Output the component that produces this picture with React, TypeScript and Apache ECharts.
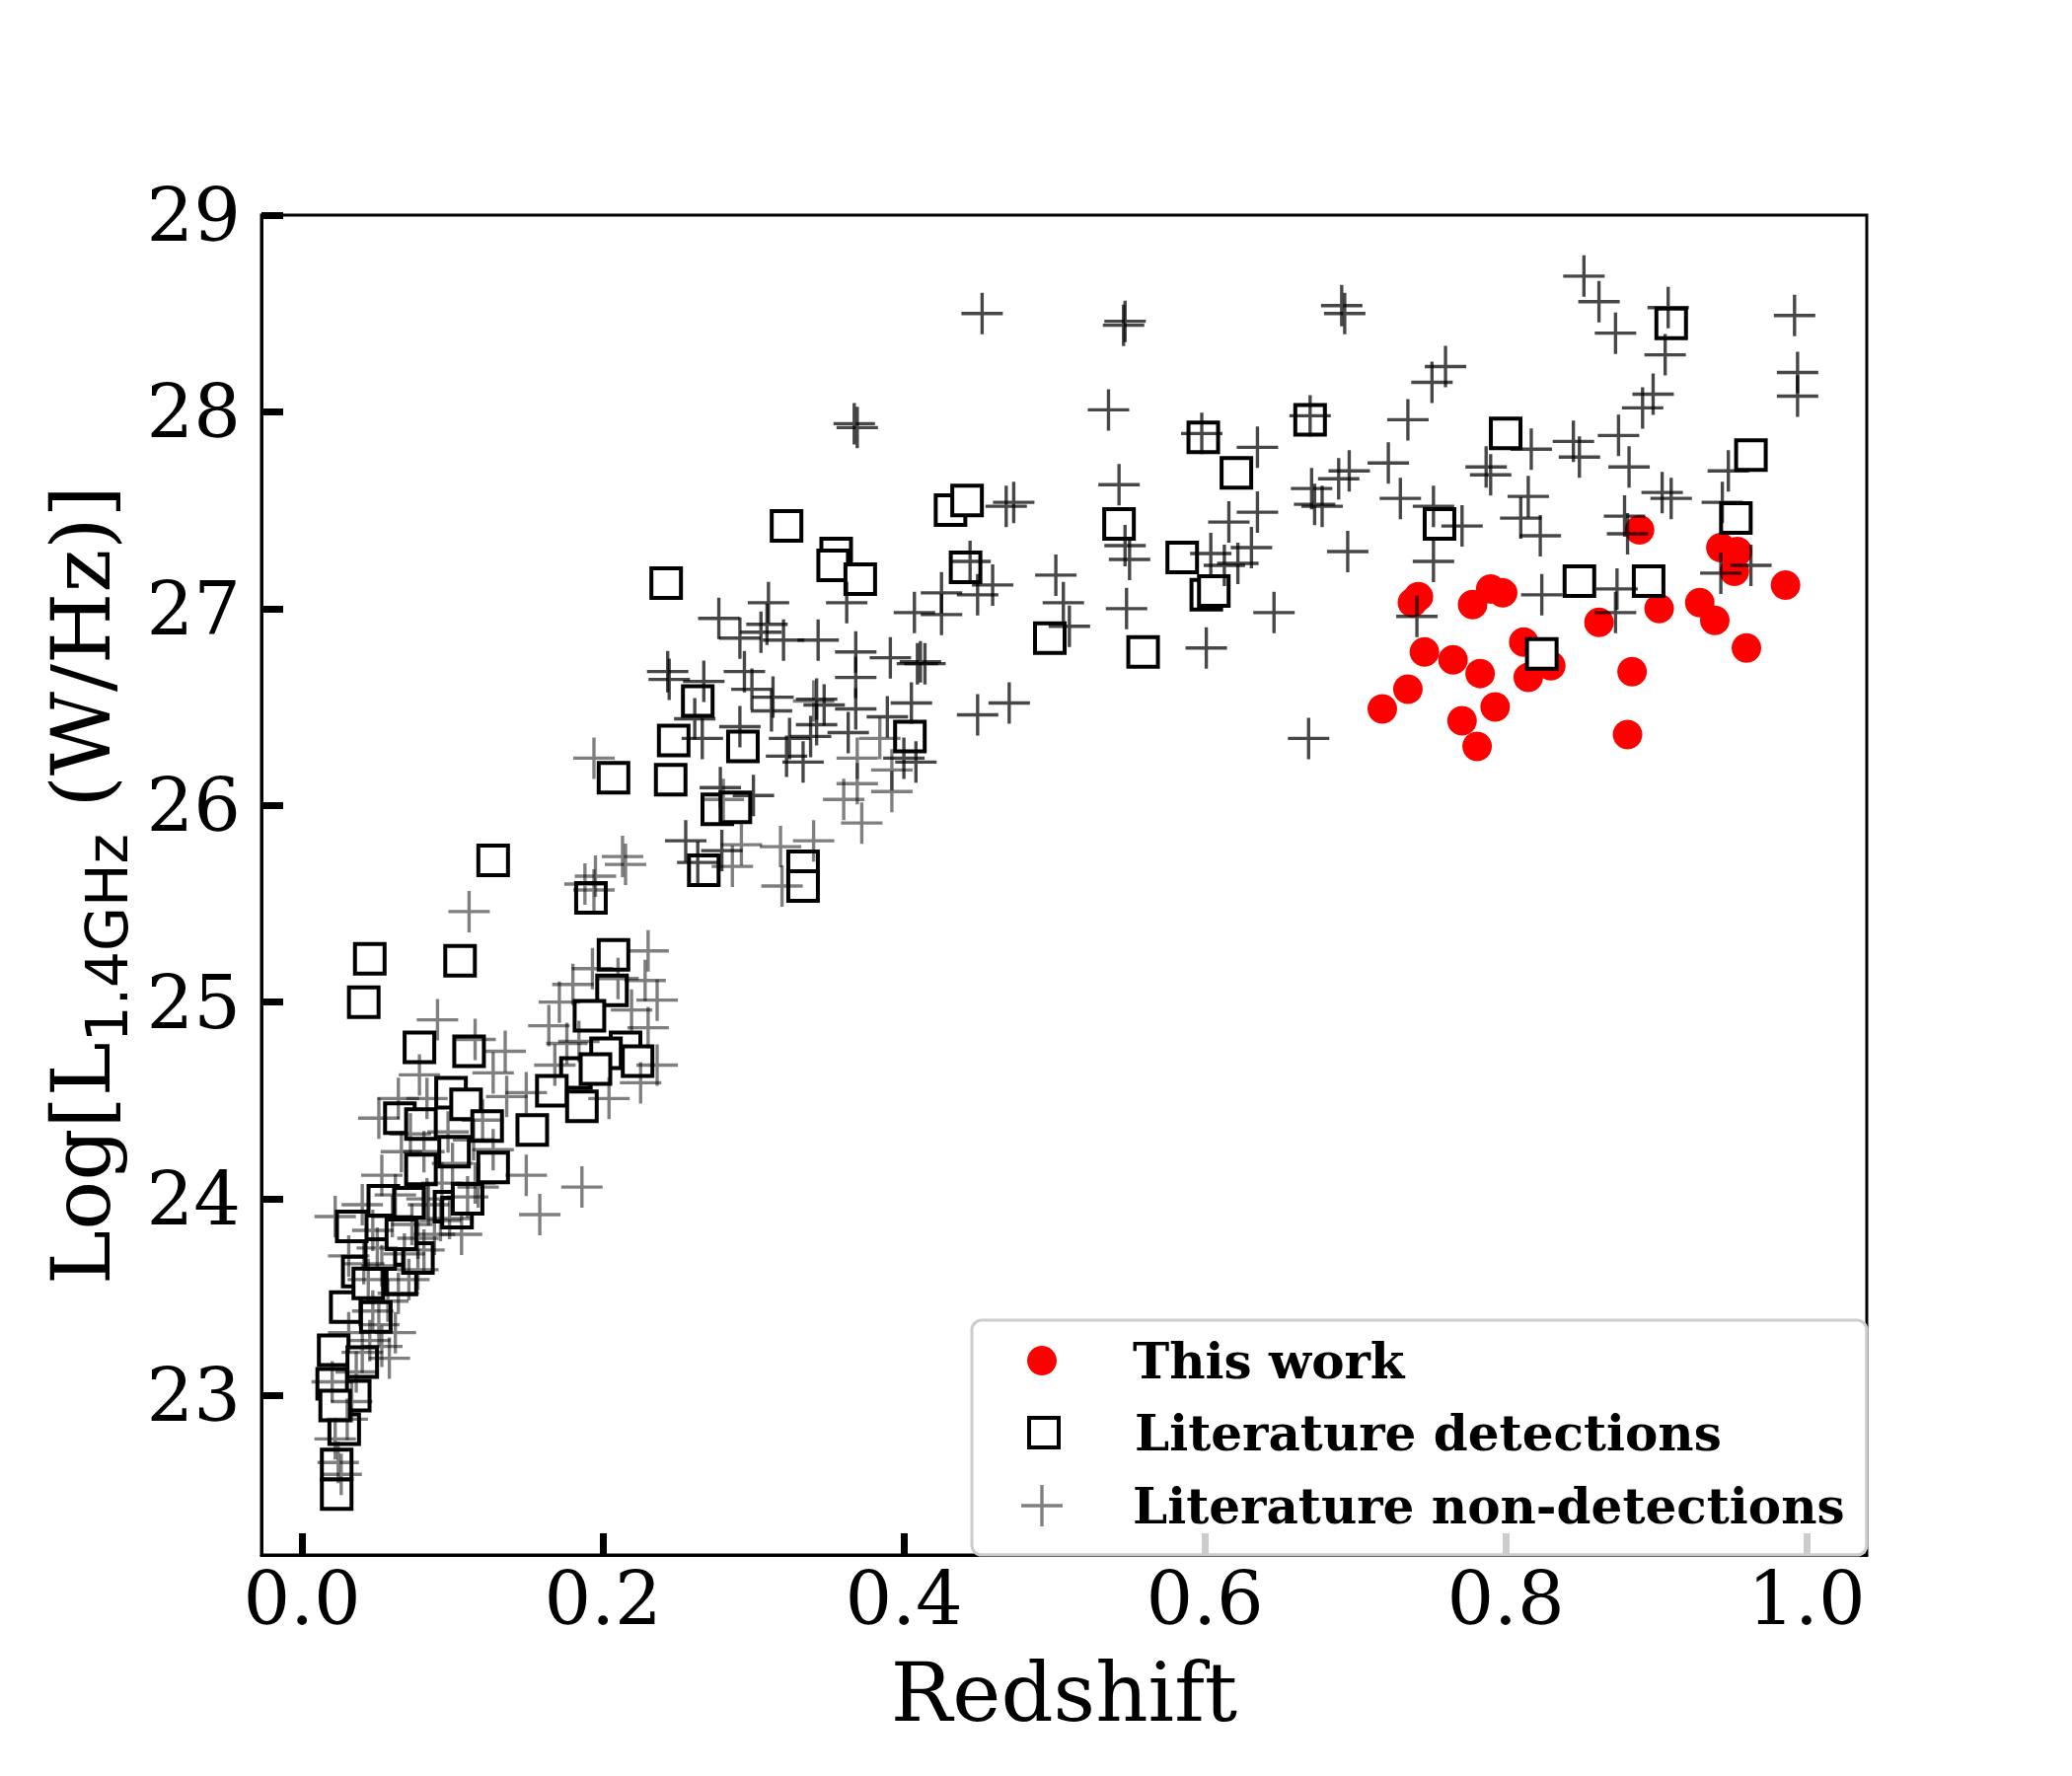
import React, { useEffect, useRef } from 'react';
import * as echarts from 'echarts';

// ---- data (redshift, log L1.4GHz) ----
const thisWork: number[][] = [
  [0.889, 27.40], [0.943, 27.31], [0.954, 27.29], [0.952, 27.19], [0.986, 27.12], [0.929, 27.03],
  [0.939, 26.94], [0.902, 27.00], [0.862, 26.93], [0.960, 26.80], [0.884, 26.68], [0.881, 26.36],
  [0.738, 27.03], [0.742, 27.06], [0.778, 27.02], [0.790, 27.10], [0.798, 27.08], [0.746, 26.78],
  [0.765, 26.74], [0.783, 26.67], [0.812, 26.83], [0.830, 26.71], [0.815, 26.65], [0.735, 26.59],
  [0.718, 26.49], [0.793, 26.50], [0.771, 26.43], [0.781, 26.30],
];

const litDetections: number[][] = [
  [0.023, 22.50], [0.023, 22.65], [0.028, 22.83], [0.035, 23.00], [0.020, 23.06], [0.022, 22.95],
  [0.021, 23.23], [0.040, 23.17], [0.029, 23.45], [0.049, 23.40], [0.037, 23.63], [0.066, 23.59],
  [0.044, 23.57], [0.052, 23.72], [0.077, 23.70], [0.033, 23.86], [0.054, 23.99], [0.066, 23.82],
  [0.071, 23.98], [0.098, 23.96], [0.103, 23.93], [0.110, 24.00],
  [0.127, 25.72], [0.192, 25.53], [0.045, 25.22], [0.105, 25.21], [0.041, 25.00], [0.207, 25.24],
  [0.206, 25.06], [0.191, 24.93], [0.215, 24.77], [0.202, 24.74], [0.223, 24.70], [0.182, 24.64],
  [0.195, 24.66], [0.166, 24.55], [0.186, 24.47], [0.153, 24.35], [0.078, 24.77], [0.111, 24.75],
  [0.099, 24.54], [0.065, 24.41], [0.079, 24.38], [0.109, 24.48], [0.123, 24.37], [0.101, 24.24],
  [0.079, 24.15], [0.127, 24.16],
  [0.322, 27.42], [0.355, 27.28], [0.353, 27.22], [0.371, 27.15], [0.242, 27.13], [0.431, 27.50],
  [0.442, 27.55], [0.441, 27.21], [0.263, 26.53], [0.247, 26.33], [0.293, 26.30], [0.207, 26.14],
  [0.245, 26.13], [0.404, 26.35], [0.276, 25.98], [0.288, 25.99], [0.267, 25.67], [0.333, 25.69],
  [0.333, 25.59],
  [0.497, 26.85], [0.559, 26.78], [0.543, 27.43], [0.599, 27.87], [0.621, 27.69], [0.585, 27.26],
  [0.601, 27.07], [0.606, 27.09],
  [0.670, 27.96], [0.800, 27.89], [0.910, 28.45], [0.963, 27.78], [0.953, 27.46], [0.756, 27.43],
  [0.849, 27.14], [0.895, 27.14], [0.824, 26.77],
];

// darker literature non-detections
const litNonDetDark: number[][] = [
  [0.852, 28.69], [0.862, 28.56], [0.873, 28.40], [0.908, 28.53], [0.906, 28.29], [0.898, 28.09],
  [0.891, 28.02], [0.992, 28.49], [0.994, 28.20], [0.994, 28.08], [0.691, 28.54], [0.693, 28.50],
  [0.760, 28.23], [0.751, 28.15], [0.735, 27.96], [0.670, 27.98], [0.722, 27.74], [0.696, 27.70],
  [0.689, 27.66], [0.671, 27.61], [0.678, 27.52], [0.673, 27.53], [0.730, 27.56], [0.752, 27.52],
  [0.771, 27.42], [0.695, 27.29], [0.752, 27.24], [0.646, 26.98], [0.741, 26.96], [0.669, 26.34],
  [0.817, 27.81], [0.845, 27.85], [0.849, 27.77], [0.875, 27.88], [0.882, 27.72], [0.787, 27.72],
  [0.790, 27.68], [0.815, 27.57], [0.810, 27.46], [0.823, 27.37], [0.904, 27.59], [0.910, 27.56],
  [0.948, 27.70], [0.944, 27.54], [0.879, 27.47], [0.881, 27.38], [0.963, 27.22], [0.943, 27.18],
  [0.824, 27.07], [0.874, 27.10], [0.873, 26.98], [0.635, 27.82], [0.635, 27.49], [0.631, 27.31],
  [0.452, 28.50], [0.547, 28.46], [0.546, 28.44], [0.536, 28.01], [0.543, 27.63], [0.616, 27.44],
  [0.598, 27.89], [0.468, 27.52], [0.473, 27.54], [0.444, 27.24], [0.459, 27.12], [0.449, 27.07],
  [0.425, 27.08], [0.407, 26.98], [0.425, 26.97], [0.411, 26.73], [0.501, 27.17], [0.506, 27.03],
  [0.510, 26.91], [0.548, 27.00], [0.547, 27.32], [0.550, 27.25], [0.604, 27.28], [0.613, 27.22],
  [0.622, 27.23], [0.601, 26.80], [0.367, 27.94], [0.369, 27.92], [0.470, 26.52],
  [0.310, 27.03], [0.277, 26.95], [0.291, 26.85], [0.305, 26.88], [0.309, 26.92], [0.320, 26.84],
  [0.343, 26.84], [0.362, 27.03], [0.368, 26.78], [0.391, 26.75], [0.409, 26.72], [0.414, 26.72],
  [0.449, 26.46], [0.243, 26.68], [0.244, 26.64], [0.267, 26.63], [0.294, 26.68], [0.299, 26.59],
  [0.313, 26.55], [0.312, 26.48], [0.342, 26.54], [0.347, 26.51], [0.368, 26.65], [0.368, 26.49],
  [0.389, 26.45], [0.405, 26.52], [0.342, 26.41], [0.338, 26.35], [0.324, 26.34], [0.322, 26.25],
  [0.333, 26.22], [0.363, 26.37], [0.400, 26.24], [0.408, 26.22], [0.291, 26.40], [0.266, 26.34],
  [0.261, 26.44], [0.278, 26.09], [0.300, 26.05], [0.255, 25.82], [0.263, 25.71], [0.279, 25.77],
];

// lighter literature non-detections (legend entry)
const litNonDetLight: number[][] = [
  [0.022, 23.91], [0.158, 23.92], [0.186, 24.06], [0.106, 23.82], [0.040, 23.97], [0.024, 22.66],
  [0.022, 22.78], [0.030, 22.88], [0.033, 22.97], [0.020, 23.07], [0.040, 23.22], [0.053, 23.25],
  [0.058, 23.19], [0.031, 23.32], [0.051, 23.36], [0.062, 23.32], [0.047, 23.43], [0.064, 23.52],
  [0.071, 23.59], [0.044, 23.59], [0.031, 23.71], [0.053, 23.66], [0.077, 23.64], [0.081, 23.74],
  [0.088, 23.82], [0.092, 23.89], [0.073, 23.87], [0.047, 23.84], [0.060, 23.91], [0.084, 23.97],
  [0.110, 24.01], [0.117, 24.06], [0.026, 22.60], [0.036, 23.12], [0.045, 23.28], [0.057, 23.48],
  [0.068, 23.72], [0.098, 23.90], [0.062, 24.02], [0.100, 24.18], [0.072, 24.33], [0.120, 24.40],
  [0.111, 25.46], [0.090, 24.91], [0.195, 25.64], [0.215, 25.70], [0.230, 25.26], [0.228, 25.11],
  [0.236, 25.01], [0.230, 24.87], [0.225, 24.59], [0.236, 24.68], [0.204, 24.51], [0.164, 24.88],
  [0.180, 25.09], [0.171, 25.00], [0.176, 24.79], [0.184, 24.80], [0.219, 24.96], [0.210, 25.12],
  [0.193, 25.17], [0.149, 24.54], [0.168, 24.68], [0.135, 24.75], [0.115, 24.81], [0.127, 24.64],
  [0.136, 24.52], [0.078, 24.63], [0.064, 24.51], [0.051, 24.41], [0.083, 24.51], [0.097, 24.34],
  [0.114, 24.30], [0.127, 24.25], [0.149, 24.12], [0.053, 24.12], [0.066, 24.24], [0.081, 24.24],
  [0.093, 24.08], [0.115, 24.08], [0.083, 24.00], [0.077, 23.80], [0.050, 23.75], [0.041, 23.67],
  [0.194, 26.24], [0.213, 25.74], [0.188, 25.60], [0.194, 25.57], [0.340, 26.53], [0.384, 26.34],
  [0.369, 26.24], [0.369, 26.11], [0.360, 26.03], [0.392, 26.07], [0.392, 26.18], [0.372, 25.91],
  [0.340, 25.82], [0.318, 25.79], [0.292, 25.80], [0.286, 25.69], [0.319, 25.59], [0.280, 26.03],
];

const xTicks = [0, 0.2, 0.4, 0.6, 0.8, 1.0];
const yTicks = [23, 24, 25, 26, 27, 28, 29];
const legendLabels = ['This work', 'Literature detections', 'Literature non-detections'];

const PLUS =
  'path://M-0.04,-0.5L0.04,-0.5L0.04,-0.04L0.5,-0.04L0.5,0.04L0.04,0.04L0.04,0.5L-0.04,0.5L-0.04,0.04L-0.5,0.04L-0.5,-0.04L-0.04,-0.04Z';

const SERIF = 'DejaVu Serif';
const PLOT_RIGHT = 1892;

function legendBox(name: string, icon: string, size: number, rowY: number, itemStyle: any) {
  const iconCx = 1056;
  const textX = 1148;
  const left = iconCx - size / 2;
  return {
    show: true,
    orient: 'vertical',
    left,
    top: rowY - 30,
    padding: 0,
    itemWidth: size,
    itemHeight: size,
    selectedMode: false,
    data: [{ name, icon, itemStyle }],
    textStyle: {
      fontFamily: SERIF,
      fontWeight: 'bold',
      fontSize: 50,
      color: '#000',
      lineHeight: 60,
      padding: [0, 0, 0, textX - left - size - 5],
    },
    z: 5,
  };
}

export default function App() {
  const ref = useRef<HTMLDivElement>(null);
  useEffect(() => {
    if (!ref.current) return;
    const chart = echarts.init(ref.current, null, { renderer: 'svg' });
    chart.setOption({
      animation: false,
      backgroundColor: '#fff',
      grid: {
        left: 265,
        right: 2100 - PLOT_RIGHT,
        top: 218,
        bottom: 224,
        show: true,
        borderColor: '#000',
        borderWidth: 3,
      },
      xAxis: {
        type: 'value',
        min: -0.027,
        max: 1.040,
        splitLine: { show: false },
        axisLine: { show: true, onZero: false, lineStyle: { color: '#000', width: 3 } },
        axisTick: { show: true, inside: true, length: 22, lineStyle: { color: '#000', width: 7 }, customValues: xTicks },
        axisLabel: {
          customValues: xTicks,
          formatter: (v: number) => v.toFixed(1),
          fontFamily: SERIF,
          fontSize: 75,
          lineHeight: 76,
          color: '#000',
          margin: 6,
        },
        name: 'Redshift',
        nameLocation: 'middle',
        nameGap: 94,
        nameTextStyle: { fontFamily: SERIF, fontSize: 83, lineHeight: 90, color: '#000' },
      },
      yAxis: {
        type: 'value',
        min: 22.19,
        max: 29.0,
        splitLine: { show: false },
        axisLine: { show: true, onZero: false, lineStyle: { color: '#000', width: 3 } },
        axisTick: { show: true, inside: true, length: 22, lineStyle: { color: '#000', width: 7 }, customValues: yTicks },
        axisLabel: {
          customValues: yTicks,
          formatter: (v: number) => String(v),
          fontFamily: SERIF,
          fontSize: 75,
          color: '#000',
          margin: 21,
        },
        name: '{a|Log[L}{b|1.4GHz}{a| (W/Hz)]}',
        nameLocation: 'middle',
        nameRotate: 90,
        nameGap: 117,
        nameTextStyle: {
          color: '#000',
          rich: {
            a: { fontFamily: SERIF, fontSize: 83, lineHeight: 110, color: '#000' },
            b: { fontFamily: 'DejaVu Sans', fontSize: 58, lineHeight: 74, verticalAlign: 'bottom', color: '#000' },
          },
        },
      },
      legend: [
        legendBox(legendLabels[0], 'circle', 30, 1379, { color: '#ff0000', borderWidth: 0, opacity: 1 }),
        legendBox(legendLabels[1], 'rect', 30, 1452, { color: '#ffffff', borderColor: '#000', borderWidth: 4, opacity: 1 }),
        legendBox(legendLabels[2], PLUS, 42, 1526, { color: 'rgba(0,0,0,0.5)', borderWidth: 0, opacity: 1 }),
      ],
      graphic: [
        {
          type: 'rect',
          z: 3,
          shape: { x: 985, y: 1338, width: PLOT_RIGHT - 985, height: 238, r: 10 },
          style: { fill: 'rgba(255,255,255,0.8)', stroke: '#cccccc', lineWidth: 3 },
        },
      ],
      series: [
        {
          name: legendLabels[0],
          type: 'scatter',
          data: thisWork,
          symbol: 'circle',
          symbolSize: 30,
          itemStyle: { color: '#ff0000', opacity: 1 },
          z: 2,
        },
        {
          name: legendLabels[1],
          type: 'scatter',
          data: litDetections,
          symbol: 'rect',
          symbolSize: 30,
          itemStyle: { color: '#ffffff', borderColor: '#000', borderWidth: 4, opacity: 1 },
          z: 2,
        },
        {
          name: 'Literature non-detections (sample B)',
          type: 'scatter',
          data: litNonDetDark,
          symbol: PLUS,
          symbolSize: 42,
          itemStyle: { color: 'rgba(0,0,0,0.72)', opacity: 1 },
          z: 2,
        },
        {
          name: legendLabels[2],
          type: 'scatter',
          data: litNonDetLight,
          symbol: PLUS,
          symbolSize: 42,
          itemStyle: { color: 'rgba(0,0,0,0.5)', opacity: 1 },
          z: 2,
        },
      ],
    });
    return () => chart.dispose();
  }, []);
  return (
    <div
      ref={ref}
      style={{ position: 'fixed', left: 0, top: 0, width: 2100, height: 1800, background: '#fff' }}
    />
  );
}
